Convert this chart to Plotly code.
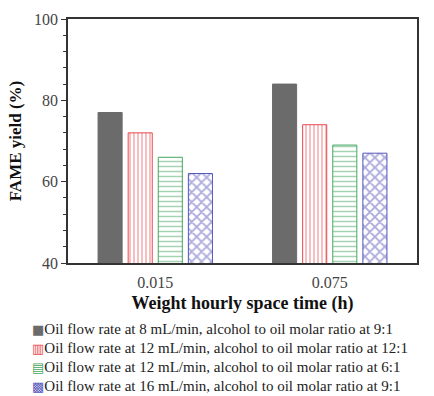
import plotly.graph_objects as go

# Weight hourly space time categories and FAME yields (%)
categories = ["0.015", "0.075"]
series_names = [
    "Oil flow rate at 8 mL/min, alcohol to oil molar ratio at 9:1",
    "Oil flow rate at 12 mL/min, alcohol to oil molar ratio at 12:1",
    "Oil flow rate at 12 mL/min, alcohol to oil molar ratio at 6:1",
    "Oil flow rate at 16 mL/min, alcohol to oil molar ratio at 9:1",
]
yield_8_9 = [77, 84]
yield_12_12 = [72, 74]
yield_12_6 = [66, 69]
yield_16_9 = [62, 67]
y_ticks = [40, 60, 80, 100]

series_values = [yield_8_9, yield_12_12, yield_12_6, yield_16_9]
colors = ["#6b6b6b", "#e8474c", "#47a862", "#5555bb"]
patterns = ["", "|", "-", "x"]
pattern_sizes = [0, 4, 5, 7]
pattern_solidity = [0, 0.35, 0.3, 0.45]
legend_glyphs = ["\u25A0", "\u25A5", "\u25A4", "\u25A9"]

serif = "Liberation Serif, Times New Roman, serif"

fig = go.Figure()
for name, vals, col, pat, psz, sol in zip(series_names, series_values, colors,
                                          patterns, pattern_sizes, pattern_solidity):
    if pat:
        marker = dict(
            color="white",
            line=dict(color=col, width=1),
            pattern=dict(shape=pat, fgcolor=col, bgcolor="white",
                         size=psz, solidity=sol, fillmode="overlay"),
        )
    else:
        marker = dict(color=col, line=dict(color=col, width=1))
    fig.add_trace(go.Bar(x=categories, y=vals, name=name, marker=marker,
                         showlegend=False))

# Compact legend block underneath the axis title
plot_top, plot_bottom = 19, 263
plot_h = plot_bottom - plot_top
first_row, row_step = 329, 19
for i, (name, col, glyph) in enumerate(zip(series_names, colors, legend_glyphs)):
    ypix = first_row + i * row_step
    fig.add_annotation(
        xref="paper", yref="paper",
        x=(30 - 68) / 349, y=(plot_bottom - ypix) / plot_h,
        xanchor="left", yanchor="middle", showarrow=False, align="left",
        text=(f"<span style='font-family:DejaVu Sans;font-size:13px;color:{col}'>"
              f"{glyph}</span>{name}"),
        font=dict(family=serif, size=15, color="#222"),
    )

fig.update_layout(
    width=434, height=396,
    margin=dict(l=68, r=17, t=plot_top, b=396 - plot_bottom),
    paper_bgcolor="white", plot_bgcolor="white",
    barmode="group", bargap=0.31, bargroupgap=0.2,
    font=dict(family=serif, color="#222", size=15),
    showlegend=False,
)
fig.update_xaxes(
    type="category", range=[-0.5, 1.5],
    showline=True, linecolor="#333", linewidth=1.5, mirror=True,
    ticks="", ticklabelstandoff=4,
    tickfont=dict(family=serif, size=16, color="#444"),
    title=dict(text="<b>Weight hourly space time (h)</b>",
               font=dict(family=serif, size=18, color="#111"), standoff=6),
    showgrid=False,
)
fig.update_yaxes(
    range=[40, 100], tickvals=y_ticks,
    showline=True, linecolor="#333", linewidth=1.5, mirror=True,
    ticks="outside", ticklen=5, tickcolor="#333",
    minor=dict(dtick=4, ticks="outside", ticklen=3, tickcolor="#333", showgrid=False),
    tickfont=dict(family=serif, size=16, color="#444"),
    title=dict(text="<b>FAME yield (%)</b>",
               font=dict(family=serif, size=17, color="#111"), standoff=8),
    showgrid=False, zeroline=False,
)

fig.write_html("out.html")
